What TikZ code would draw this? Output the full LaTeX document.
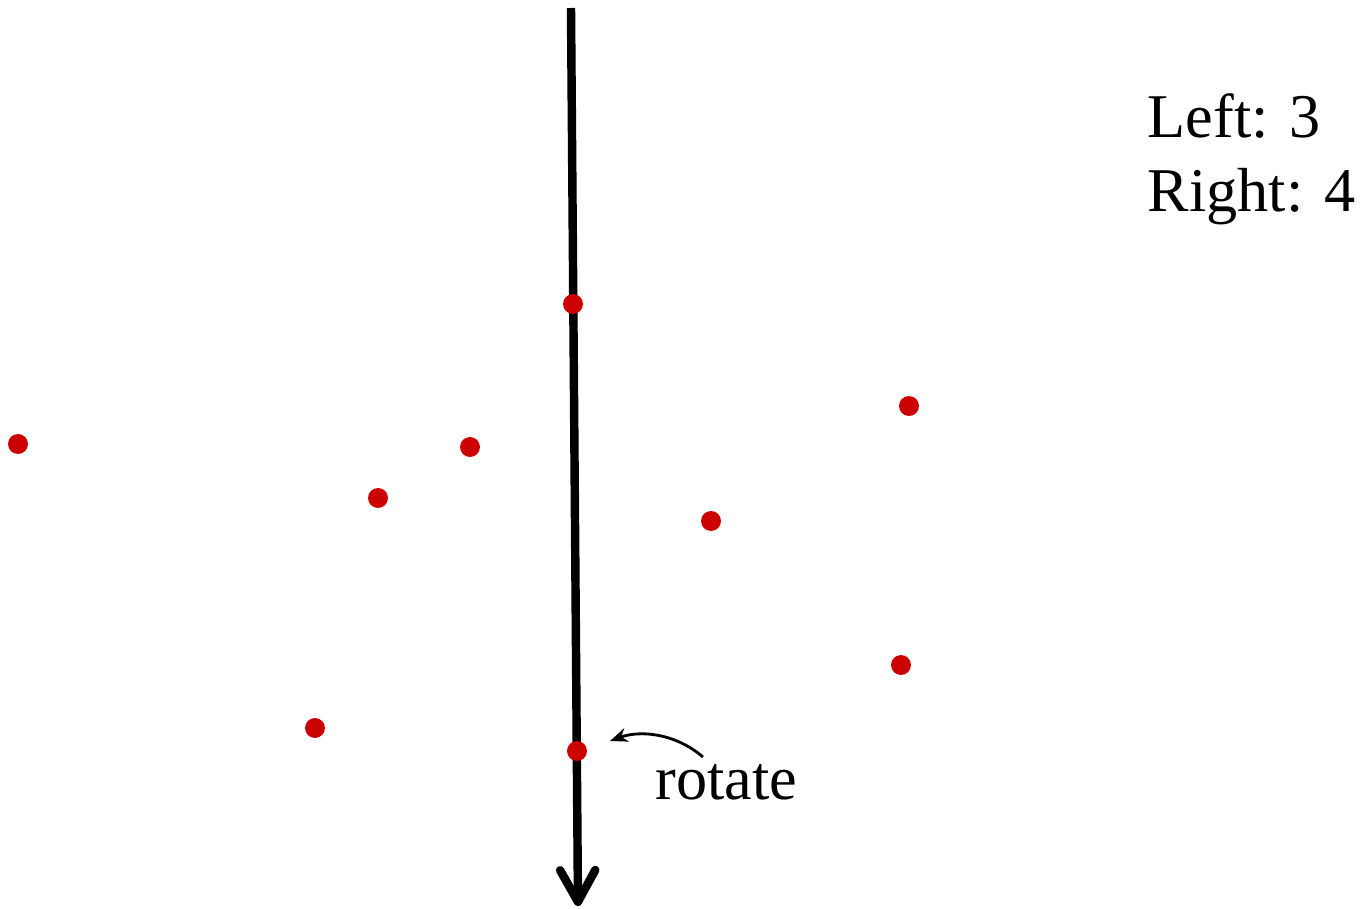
\documentclass[tikz,border=0pt]{standalone}
\usepackage{fontspec}
\setmainfont{Liberation Serif}
\usetikzlibrary{arrows.meta,positioning}

\definecolor{dotred}{RGB}{204,0,0}

\begin{document}
\begin{tikzpicture}[x=0.01cm,y=-0.01cm,
  dot/.style={circle,fill=dotred,inner sep=0pt,minimum size=20*0.01cm},
  lbl/.style={font=\fontsize{17.7}{21.2}\selectfont,inner sep=0pt}]
\useasboundingbox (0,0) rectangle (1362,909);
% the splitting line
\coordinate (top) at (571,8);
\coordinate (bot) at (578,906);
\draw[line width=2.4pt,-{Straight Barb[length=9pt,width=10pt,line width=2.4pt,round]}] (top) -- (bot);
% points
\node[dot] (p1) at (573,304) {};
\node[dot] (p2) at (18,444) {};
\node[dot] (p3) at (470,447) {};
\node[dot] (p4) at (378,498) {};
\node[dot] (p5) at (909,406) {};
\node[dot] (p6) at (711,521) {};
\node[dot] (p7) at (901,665) {};
\node[dot] (p8) at (315,728) {};
\node[dot] (p9) at (577,751) {};
% labels
\node[lbl,anchor=base west] (rot) at (655,799) {rotate};
\node[lbl,anchor=base west] (left) at (1147,137) {Left: 3};
\node[lbl,anchor=base west] (right) at (1147,212) {Right: 4};
\coordinate (rs) at (703,757);
\coordinate (re) at (610,741);
\draw[thick,-{Stealth[length=5pt,width=4pt]}] (rs) .. controls (675,733) and (640,730) .. (re);
\end{tikzpicture}
\end{document}
